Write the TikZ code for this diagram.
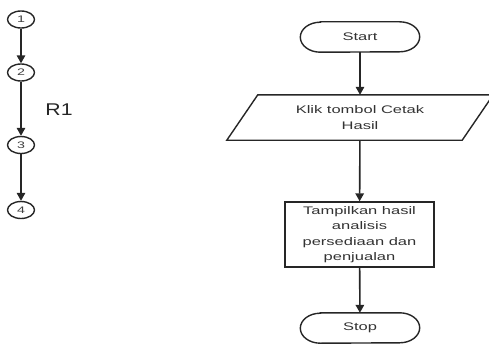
\documentclass[tikz,border=0pt]{standalone}
\usepackage{fontspec}
\newfontfamily\flowfont[FakeStretch=1.5]{Liberation Sans}
\newfontfamily\labelfont[FakeStretch=1.25]{Liberation Sans}
\usetikzlibrary{arrows.meta,shapes.geometric}
\begin{document}
\begin{tikzpicture}[x=1pt,y=-1pt,
  ink/.style={draw=black!85,line width=1.4pt},
  conn/.style={draw=black!85,line width=1.6pt,-{Triangle[length=8pt,width=8.5pt]}},
  pathnode/.style={ink,ellipse,minimum width=27pt,minimum height=17pt,inner sep=0pt,
    font=\flowfont\fontsize{9.5}{9.5}\selectfont,text=black!75},
  flowtext/.style={align=center,inner sep=0pt,text=black!80,
    font=\flowfont\fontsize{11}{15.5}\selectfont},
  termnode/.style={flowtext,minimum width=119pt,minimum height=30pt},
  iobox/.style={flowtext,minimum width=235pt,minimum height=45pt},
  procbox/.style={flowtext,ink,minimum width=149pt,minimum height=65pt}]
\useasboundingbox (0,0) rectangle (489,345);
\clip (0,0) rectangle (489,345);

% flow graph
\node[pathnode] (n1) at (21,19.5) {1};
\node[pathnode] (n2) at (21,72.5) {2};
\node[pathnode] (n3) at (21,145) {3};
\node[pathnode] (n4) at (21,210) {4};
\draw[conn] (n1) -- (n2);
\draw[conn] (n2) -- (n3);
\draw[conn] (n3) -- (n4);
\node[font=\labelfont\fontsize{17}{17}\selectfont,text=black!85] (r1) at (59,110) {R1};

% flowchart
\node[termnode] (start) at (360,37) {Start};
\node[iobox] (input) at (360,117.5) {Klik tombol Cetak\\Hasil};
\node[procbox] (show) at (359.5,234.5) {Tampilkan hasil\\analisis\\persediaan dan\\penjualan};
\node[termnode] (stop) at (360,328) {Stop};

% terminal outlines with elliptical ends
\foreach \t in {start,stop}{
  \draw[ink] ([xshift=20pt]\t.north west) -- ([xshift=-20pt]\t.north east)
    arc[start angle=90,end angle=-90,x radius=20pt,y radius=15pt]
    -- ([xshift=20pt]\t.south west)
    arc[start angle=270,end angle=90,x radius=20pt,y radius=15pt] -- cycle;
}
% input/output parallelogram
\draw[ink] ([xshift=15.5pt]input.north west) -- ([xshift=15.5pt]input.north east)
  -- ([xshift=-15.5pt]input.south east) -- ([xshift=-15.5pt]input.south west) -- cycle;

\draw[conn] (start) -- (input);
\draw[conn] (input) -- (show);
\draw[conn] (show) -- (stop);
\end{tikzpicture}
\end{document}
